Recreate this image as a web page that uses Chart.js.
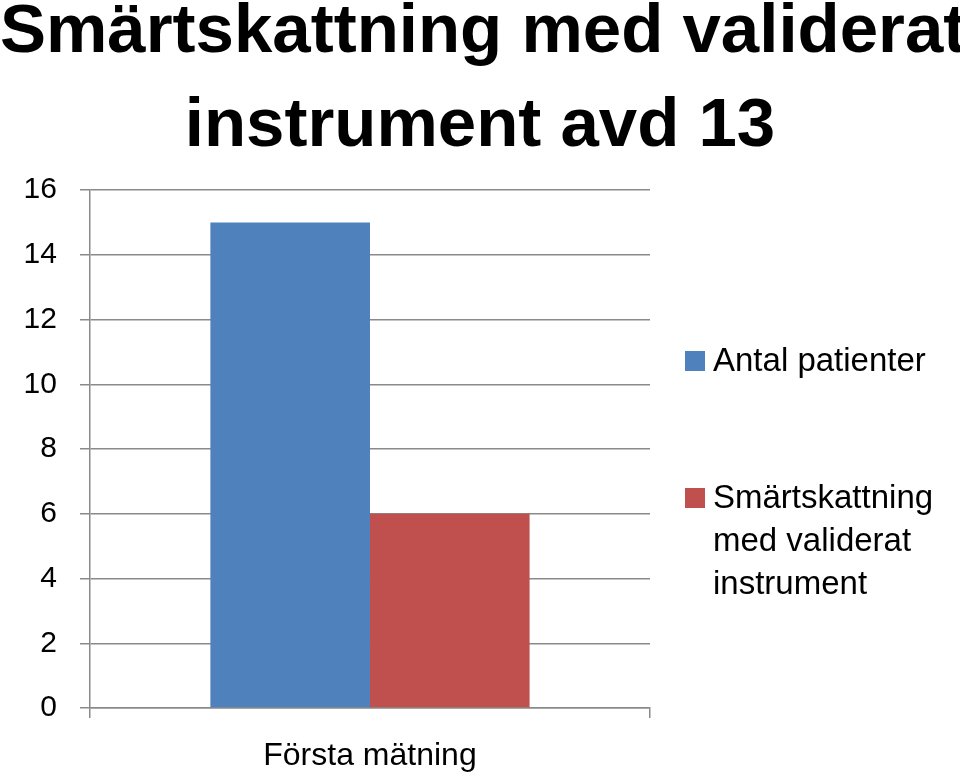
<!DOCTYPE html>
<html lang="sv">

<head>
    <meta charset="UTF-8">
    <script src="https://cdn.jsdelivr.net/npm/chart.js@4"></script>
    <title>Smärtskattning med validerat instrument avd 13</title>
    <style>
        body { margin: 0; background: #fff; }
        #wrap { position: relative; width: 960px; height: 772px; overflow: hidden; }
        #chart { position: absolute; left: 0; top: 0; }
        #titel {
            position: absolute; left: 0; top: -18px; width: 960px; margin: 0;
            text-align: center; font: bold 69px/94px "Liberation Sans", Arial, sans-serif; color: #000;
            white-space: nowrap;
        }
        #legend {
            position: absolute; left: 685px; top: 338px; width: 270px;
            font: 33px/43px "Liberation Sans", Arial, sans-serif; color: #000;
        }
        .post { position: relative; padding-left: 28px; width: 240px; margin-bottom: 94px; }
        .ruta { position: absolute; left: 0; top: 13px; width: 20px; height: 20px; }
    </style>
</head>

<body>
    <div id="wrap">
        <canvas id="chart" width="960" height="772"></canvas>
        <h1 id="titel">Smärtskattning med validerat<br>instrument avd 13</h1>
        <div id="legend"></div>
    </div>
</body>

</html>
<script>
    // data
    var kategorier = ['Första mätning'];
    var serieNamn = ['Antal patienter', 'Smärtskattning med validerat instrument'];
    var antalPatienter = [15];
    var smartskattning = [6];
    var yMin = 0, yMax = 16, ySteg = 2;

    var gra = '#8a8a8a';

    // ticks.padding räknas två gånger i axelns storlek, ta bort den ena
    function xEfterFit(skala) {
        skala.height -= skala.options.ticks.padding;
    }
    function yEfterFit(skala) {
        skala.width -= skala.options.ticks.padding;
    }

    var config = {
        type: 'bar',
        data: {
            labels: kategorier,
            datasets: [{
                label: serieNamn[0],
                data: antalPatienter,
                backgroundColor: '#4F81BD'
            }, {
                label: serieNamn[1],
                data: smartskattning,
                backgroundColor: '#C0504D'
            }]
        },
        options: {
            responsive: false,
            animation: false,
            layout: {
                padding: { top: 190, right: 310, bottom: 0, left: 23.6 }
            },
            datasets: {
                bar: { categoryPercentage: 0.57, barPercentage: 1.0 }
            },
            plugins: {
                legend: { display: false },
                tooltip: { enabled: false },
                title: { display: false }
            },
            scales: {
                x: {
                    afterFit: xEfterFit,
                    grid: { offset: true, drawOnChartArea: false, tickLength: 10, color: gra, lineWidth: 1.5 },
                    border: { color: gra, width: 1.5 },
                    ticks: {
                        color: '#000', padding: 22, maxRotation: 0,
                        font: { family: '"Liberation Sans", Arial, sans-serif', size: 32, lineHeight: 1.0 }
                    }
                },
                y: {
                    min: yMin,
                    max: yMax,
                    afterFit: yEfterFit,
                    grid: { color: gra, lineWidth: 1.5, tickLength: 10 },
                    border: { color: gra, width: 1.5 },
                    ticks: {
                        stepSize: ySteg, color: '#000', padding: 23,
                        font: { family: '"Liberation Sans", Arial, sans-serif', size: 30 }
                    }
                }
            }
        }
    };

    var ctx = document.getElementById('chart').getContext('2d');
    var minChart = new Chart(ctx, config);

    // egen legend så att texten kan radbrytas
    var legend = document.getElementById('legend');
    minChart.data.datasets.forEach(function (ds) {
        var post = document.createElement('div');
        post.className = 'post';
        post.innerHTML = '<span class="ruta" style="background:' + ds.backgroundColor + '"></span>' + ds.label;
        legend.appendChild(post);
    });
</script>
